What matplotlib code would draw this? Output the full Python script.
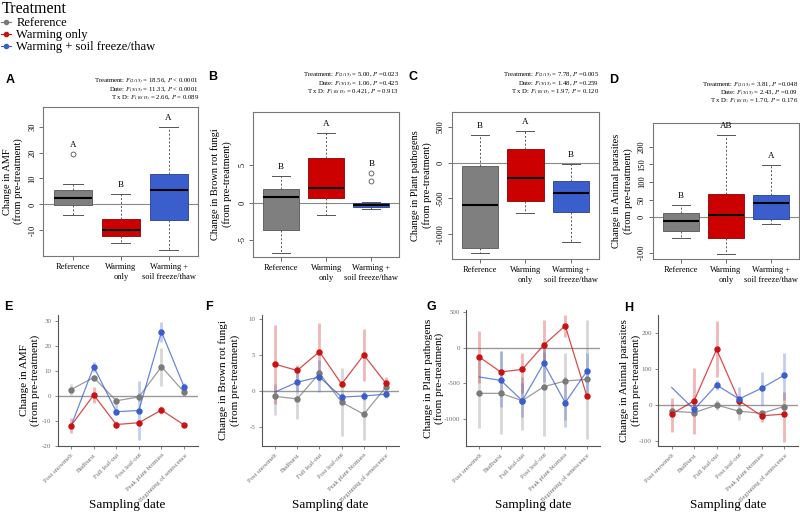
import numpy as np
import matplotlib
matplotlib.use("Agg")
import matplotlib.pyplot as plt
from matplotlib.lines import Line2D

plt.rcParams['font.family'] = ['Liberation Serif', 'DejaVu Serif']
plt.rcParams['mathtext.fontset'] = 'stix'

# ---------------- data ----------------
treatments = ["Reference", "Warming only", "Warming + soil freeze/thaw"]
box_labels = ["Reference", "Warming\nonly", "Warming +\nsoil freeze/thaw"]
stages = ["Post snowmelt", "Budburst", "Full leaf-out", "Post leaf-out",
          "Peak plant biomass", "Beginning of senescence"]

# Box plot summaries (Reference, Warming only, Warming + soil freeze/thaw)
amf_wlo = [-4.0, -15.0, -17.5]
amf_q1 = [-0.3, -12.0, -6.0]
amf_med = [2.5, -10.0, 5.5]
amf_q3 = [5.5, -5.5, 11.8]
amf_whi = [8.0, 4.0, 30.0]
amf_fliers = [[19.5], [], []]
amf_letters = ["A", "B", "A"]

brf_wlo = [-6.7, -1.7, -0.9]
brf_q1 = [-3.6, 0.6, -0.6]
brf_med = [0.7, 1.9, -0.3]
brf_q3 = [1.8, 6.0, 0.0]
brf_whi = [3.6, 9.3, 0.1]
brf_fliers = [[], [], [4.0, 2.9]]
brf_letters = ["B", "A", "B"]

pp_wlo = [-1270, -715, -1120]
pp_q1 = [-1195, -540, -700]
pp_med = [-590, -215, -425]
pp_q3 = [-50, 195, -260]
pp_whi = [390, 450, -15]
pp_fliers = [[], [], []]
pp_letters = ["B", "A", "B"]

ap_wlo = [-58, -103, -18]
ap_q1 = [-38, -60, -5]
ap_med = [-10, 5, 40]
ap_q3 = [12, 65, 62]
ap_whi = [35, 232, 147]
ap_fliers = [[], [], []]
ap_letters = ["B", "AB", "A"]

stats_text = {
    "A": [("Treatment", "2/15", "18.56", "< 0.0001"), ("Date", "5/15", "11.33", "< 0.0001"), ("T x D", "10/15", "2.66", "= 0.089")],
    "B": [("Treatment", "2/15", "5.00", "=0.023"), ("Date", "5/15", "1.06", "=0.425"), ("T x D", "10/15", "0.421", "= 0.913")],
    "C": [("Treatment", "2/15", "7.78", "=0.005"), ("Date", "5/15", "1.48", "=0.259"), ("T x D", "10/15", "1.97", "= 0.120")],
    "D": [("Treatment", "2/15", "3.81", "=0.048"), ("Date", "5/15", "2.43", "=0.09"), ("T x D", "10/15", "1.70", "= 0.176")],
}

nan = np.nan
# Time series: mean, lower, upper  (AMF)
e_ref = [2.5, 7.3, -2.0, -0.5, 11.6, 1.5]
e_ref_lo = [0.3, 6.3, -3.5, -2.0, 4.0, 0.0]
e_ref_hi = [4.7, 8.3, -0.5, 1.0, 19.0, 3.0]
e_warm = [-11.9, 0.3, -11.5, -10.8, -5.7, -11.7]
e_warm_lo = [-14.7, -3.0, -13.0, -11.8, -7.3, -12.3]
e_warm_hi = [-8.7, 3.6, -10.0, -9.8, -4.1, -11.1]
e_wft = [-12.0, 11.6, -6.4, -5.9, 25.6, 3.6]
e_wft_lo = [nan, 9.6, -7.0, -17.7, 21.6, 2.0]
e_wft_hi = [nan, 13.6, -3.7, 6.0, 29.6, 5.2]

# Brown rot fungi
f_ref = [-0.8, -1.16, 2.4, -1.6, -3.3, 0.5]
f_ref_lo = [-3.4, -4.0, 1.9, -6.3, -6.8, 0.2]
f_ref_hi = [0.9, 1.9, 2.9, 3.1, 0.0, 0.8]
f_warm = [3.66, 2.8, 5.4, 0.9, 4.95, 1.0]
f_warm_lo = [-1.8, 1.9, 1.4, 0.5, 1.3, 0.4]
f_warm_hi = [9.1, 3.5, 9.4, 1.3, 8.6, 1.9]
f_wft = [-0.2, 1.16, 1.9, -0.9, -0.75, -0.5]
f_wft_lo = [nan, 0.0, -0.2, -1.4, -1.3, -1.1]
f_wft_hi = [nan, 2.6, 4.2, -0.4, -0.2, 0.1]

# Plant pathogens
g_ref = [-640, -640, -743, -547, -467, -444]
g_ref_lo = [-1131, -1205, -1154, -1238, -1014, -1285]
g_ref_hi = [-170, -42, -407, -56, -80, 388]
g_warm = [-131, -341, -304, 37, 308, -673]
g_warm_lo = [-500, -380, -640, -220, 154, -710]
g_warm_hi = [234, -300, -80, 388, 458, -636]
g_wft = [-411, -458, -743, -220, -771, -332]
g_wft_lo = [nan, -827, -967, -477, -1117, -640]
g_wft_hi = [nan, -42, -500, 5, -407, -80]

# Animal parasites
h_ref = [-17, -21, 0, -17, -23, -4]
h_ref_lo = [-25, -29, -14, -42, -30, -12]
h_ref_hi = [-9, -13, 14, 7, -16, 4]
h_warm = [-25, 12, 155, 12, -30, -25]
h_warm_lo = [-74, -81, 79, 6, -47, -102]
h_warm_hi = [21, 102, 233, 18, -19, 37]
h_wft = [49, -12, 56, 17, 47, 83]
h_wft_lo = [nan, -25, 42, 0, 0, 14]
h_wft_hi = [nan, 5, 70, 51, 93, 146]

# ---------------- style ----------------
box_fill = ["#7F7F7F", "#CD0000", "#3A5FCD"]
box_edge = ["#555555", "#8B0000", "#27408B"]
line_col = ["#7A7A7A", "#CC1111", "#3A5FCD"]

W, H = 800, 515
fig = plt.figure(figsize=(8, 5.15), dpi=100)


def rect(l, t, r, b):
    return [l / W, 1 - b / H, (r - l) / W, (b - t) / H]


def box_panel(r, wlo, q1, med, q3, whi, fliers, letters, ylim, yticks, ylabel, lab_x):
    ax = fig.add_axes(rect(*r))
    stats = [dict(whislo=wlo[i], q1=q1[i], med=med[i], q3=q3[i], whishi=whi[i],
                  fliers=fliers[i]) for i in range(3)]
    ax.axhline(0, color="#8a8a8a", lw=0.8, zorder=0)
    bp = ax.bxp(stats, positions=[1, 2, 3], widths=0.8, patch_artist=True,
                showfliers=True,
                boxprops=dict(linewidth=0.6),
                medianprops=dict(color="black", lw=1.5),
                whiskerprops=dict(color="#555555", lw=0.7, linestyle=(0, (2, 2))),
                capprops=dict(color="#555555", lw=0.7),
                flierprops=dict(marker="o", markerfacecolor="none",
                                markeredgecolor="#555555", markersize=3.5,
                                markeredgewidth=0.6))
    for p, fc, ec in zip(bp["boxes"], box_fill, box_edge):
        p.set_facecolor(fc)
        p.set_edgecolor(ec)
    for i in range(3):
        top = max([whi[i]] + list(fliers[i]))
        ax.annotate(letters[i], (i + 1, top), xytext=(0, 3.5), textcoords="offset points",
                    ha="center", va="bottom", fontsize=6.5)
    ax.set_xlim(0.38, 3.62)
    ax.set_ylim(*ylim)
    ax.set_xticks([1, 2, 3])
    ax.set_xticklabels(box_labels, fontsize=6, linespacing=1.3)
    ax.set_yticks(yticks)
    ax.set_yticklabels([str(t) for t in yticks], rotation=90, va="center", fontsize=6)
    ax.tick_params(length=3, width=0.6, color="#555555", pad=2)
    for s in ax.spines.values():
        s.set_color("#777777")
        s.set_linewidth(0.8)
    ax.set_ylabel(ylabel, fontsize=7.5, linespacing=1.2)
    ax.yaxis.set_label_coords(lab_x, 0.5)
    return ax


def line_panel(r, series, ylim, yticks, ylabel, lab_x):
    ax = fig.add_axes(rect(*r))
    x = np.arange(1, len(stages) + 1)
    ax.axhline(0, color="#999999", lw=1.0, zorder=0)
    for k, (vals, lo, hi) in enumerate(series):
        col = line_col[k]
        vals = np.asarray(vals, float)
        ax.vlines(x, lo, hi, color=col, alpha=0.3, lw=2.0, zorder=1)
        ax.plot(x, vals, color=col, lw=0.9, alpha=0.75, zorder=2)
        idx = list(range(len(x))) if k < 2 else list(range(1, len(x)))
        ax.plot(x[idx], vals[idx], "o", color=col, ms=3.6, zorder=3)
    ax.set_xlim(0.4, 6.6)
    ax.set_ylim(*ylim)
    ax.set_xticks(x)
    ax.set_xticklabels(stages, rotation=45, ha="right", rotation_mode="anchor",
                       fontsize=4.8, color="#707070")
    ax.set_yticks(yticks)
    ax.set_yticklabels([str(t) for t in yticks], fontsize=5, color="#707070")
    ax.tick_params(length=2.5, width=0.6, color="#707070", pad=2)
    for s in ["top", "right"]:
        ax.spines[s].set_visible(False)
    for s in ["left", "bottom"]:
        ax.spines[s].set_color("#555555")
        ax.spines[s].set_linewidth(0.8)
    ax.set_ylabel(ylabel, fontsize=8, linespacing=1.2)
    ax.yaxis.set_label_coords(lab_x, 0.5)
    cx = (r[0] + r[2]) / 2
    fig.text(cx / W, 1 - 505 / H, "Sampling date", ha="center", va="center", fontsize=9.5)
    return ax


# ---------------- top panels ----------------
box_panel((43.3, 106.7, 198.3, 256), amf_wlo, amf_q1, amf_med, amf_q3, amf_whi, amf_fliers,
          amf_letters, (-19.9, 37.7), [-10, 0, 10, 20, 30],
          "Change in AMF\n(from pre-treatment)", -0.13)
box_panel((253.3, 111.7, 399.3, 257.3), brf_wlo, brf_q1, brf_med, brf_q3, brf_whi, brf_fliers,
          brf_letters, (-7.32, 12.19), [-5, 0, 5],
          "Change in Brown rot fungi\n(from pre-treatment)", -0.148)
box_panel((451.7, 112, 599, 259), pp_wlo, pp_q1, pp_med, pp_q3, pp_whi, pp_fliers,
          pp_letters, (-1355, 710), [-1000, -500, 0, 500],
          "Change in Plant pathogens\n(from pre-treatment)", -0.136)
box_panel((652.7, 123.3, 799, 259.3), ap_wlo, ap_q1, ap_med, ap_q3, ap_whi, ap_fliers,
          ap_letters, (-119, 266), [-100, 0, 50, 100, 150, 200],
          "Change in Animal parasites\n(from pre-treatment)", -0.135)

stat_pos = {"A": (199, [81.7, 90.2, 98.7]), "B": (399, [75.7, 84.3, 92.7]),
            "C": (599, [75.7, 84.3, 92.7]), "D": (798, [85.5, 93.5, 101.5])}
for key, lines in stats_text.items():
    xr, ys = stat_pos[key]
    for (name, df, fv, pv), yy in zip(lines, ys):
        s = name + r": $F_{(" + df + r")}$ = " + fv + r", $P$ " + pv
        fig.text(xr / W, 1 - yy / H, s, ha="right", va="center", fontsize=4.9)

# ---------------- bottom panels ----------------
line_panel((57.6, 315, 197.6, 446),
           [(e_ref, e_ref_lo, e_ref_hi), (e_warm, e_warm_lo, e_warm_hi), (e_wft, e_wft_lo, e_wft_hi)],
           (-20.1, 32.3), [-20, -10, 0, 10, 20, 30], "Change in AMF\n(from pre-treatment)", -0.125)
line_panel((261.7, 315, 399.3, 446),
           [(f_ref, f_ref_lo, f_ref_hi), (f_warm, f_warm_lo, f_warm_hi), (f_wft, f_wft_lo, f_wft_hi)],
           (-7.7, 10.5), [-5, 0, 5, 10], "Change in Brown rot fungi\n(from pre-treatment)", -0.158)
line_panel((466.4, 310, 599.6, 446),
           [(g_ref, g_ref_lo, g_ref_hi), (g_warm, g_warm_lo, g_warm_hi), (g_wft, g_wft_lo, g_wft_hi)],
           (-1378, 528), [-1000, -500, 0, 500], "Change in Plant pathogens\n(from pre-treatment)", -0.165)
line_panel((658.2, 315, 797.5, 446),
           [(h_ref, h_ref_lo, h_ref_hi), (h_warm, h_warm_lo, h_warm_hi), (h_wft, h_wft_lo, h_wft_hi)],
           (-114, 251), [-100, 0, 100, 200], "Change in Animal parasites\n(from pre-treatment)", -0.125)

# ---------------- panel letters ----------------
for lab, (px, py) in {"A": (10, 80), "B": (213, 77), "C": (413, 77), "D": (614, 80),
                      "E": (8, 307), "F": (209, 307), "G": (431, 307), "H": (629, 308)}.items():
    fig.text(px / W, 1 - py / H, lab, ha="center", va="center", fontsize=9,
             fontweight="bold", family=["Liberation Sans", "DejaVu Sans"])

# ---------------- legend ----------------
handles = [Line2D([], [], color=c, marker="o", ms=3, lw=0.8) for c in line_col]
leg = fig.legend(handles, treatments, loc="upper left", bbox_to_anchor=(0.0, 1.0),
                 frameon=False, title="Treatment", title_fontsize=11.5, fontsize=9,
                 alignment="left", handlelength=0.8, handletextpad=0.4,
                 labelspacing=0.0, borderpad=0.1, borderaxespad=0.0)

fig.savefig("out.png", dpi=100)
